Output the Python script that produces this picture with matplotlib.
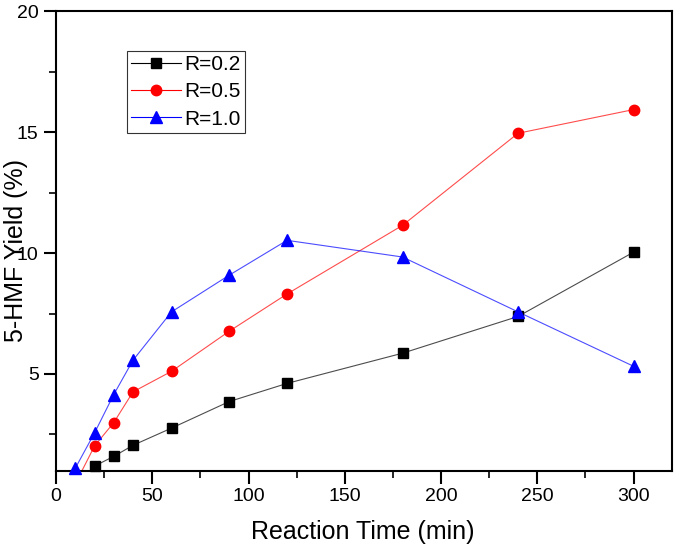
import numpy as np
import matplotlib
matplotlib.use("Agg")
import matplotlib.pyplot as plt
from matplotlib.ticker import MultipleLocator

plt.rcParams['font.family'] = ['Liberation Sans', 'DejaVu Sans']

time_02 = [20, 30, 40, 60, 90, 120, 180, 240, 300]
yield_02 = [1.19, 1.59, 2.05, 2.76, 3.86, 4.61, 5.86, 7.38, 10.04]
time_05 = [10, 20, 30, 40, 60, 90, 120, 180, 240, 300]
yield_05 = [0.45, 2.02, 2.99, 4.26, 5.11, 6.77, 8.31, 11.15, 14.96, 15.94]
time_10 = [10, 20, 30, 40, 60, 90, 120, 180, 240, 300]
yield_10 = [1.1, 2.56, 4.15, 5.57, 7.57, 9.09, 10.53, 9.84, 7.57, 5.32]

series = [
    ("R=0.2", time_02, yield_02, "black", "s", 6.5),
    ("R=0.5", time_05, yield_05, "red", "o", 7.5),
    ("R=1.0", time_10, yield_10, "blue", "^", 9),
]

fig = plt.figure(figsize=(6.75, 5.46), dpi=100)
ax = fig.add_axes([0.083, 0.138, 0.9126, 0.841])
ymin, ymax = 1, 20
for label, t, y, c, m, ms in series:
    t = np.array(t); y = np.array(y)
    ax.plot(t, y, color=c, lw=0.8, alpha=0.7)
    mask = y >= ymin
    ax.plot(t[mask], y[mask], linestyle='none', marker=m, color=c, ms=ms, clip_on=False, zorder=3)
    ax.plot([], [], color=c, lw=0.8, marker=m, ms=ms, label=label)

ax.set_xlim(0, 320)
ax.set_ylim(ymin, ymax)
ax.xaxis.set_major_locator(MultipleLocator(50))
ax.xaxis.set_minor_locator(MultipleLocator(25))
ax.set_yticks([5, 10, 15, 20])
ax.yaxis.set_minor_locator(MultipleLocator(2.5))
ax.tick_params(which='major', direction='out', length=9, width=1.5, labelsize=14)
ax.tick_params(which='minor', direction='out', length=5, width=1.2)
ax.tick_params(top=False, right=False, which='both')
for s in ax.spines.values():
    s.set_linewidth(1.5)
ax.set_xlabel("Reaction Time (min)", fontsize=18)
ax.set_ylabel("5-HMF Yield (%)", fontsize=18)
ax.xaxis.set_label_coords(0.498, -0.107)
ax.yaxis.set_label_coords(-0.045, 0.48)

leg = ax.legend(loc='upper left', bbox_to_anchor=(0.115, 0.914), fontsize=15,
                frameon=True, fancybox=False, edgecolor='black', handlelength=2.4,
                borderpad=0.2, labelspacing=0.4, handletextpad=0.15, borderaxespad=0)
leg.get_frame().set_linewidth(0.8)

fig.savefig("out.png", dpi=100)
